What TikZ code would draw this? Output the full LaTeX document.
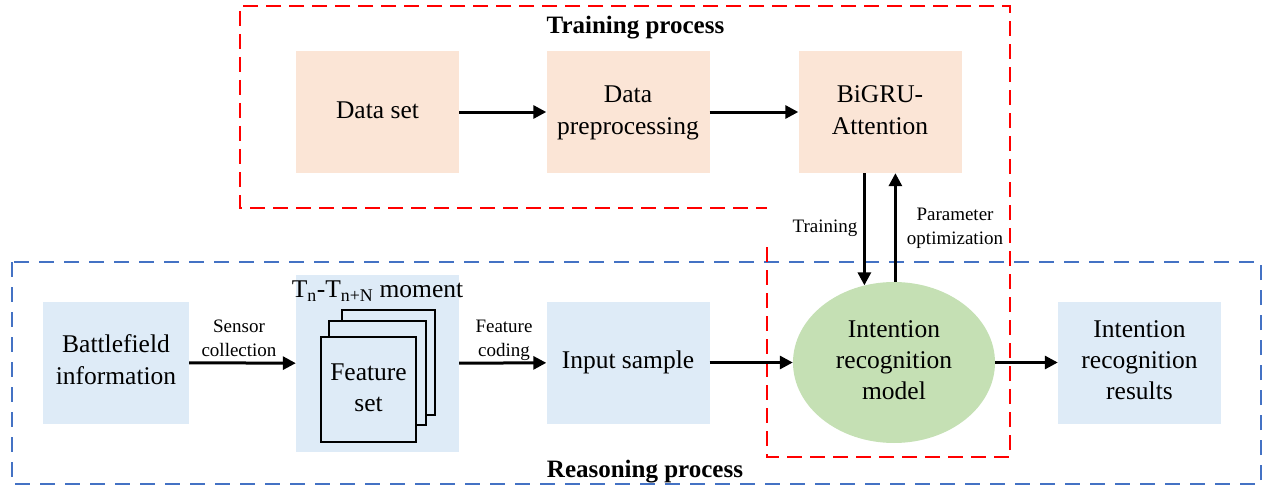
\documentclass[tikz,border=0pt]{standalone}
\usepackage{fontspec}
\setmainfont{Liberation Serif}
\usetikzlibrary{shapes.geometric,arrows.meta}
\definecolor{boxorange}{HTML}{FBE5D6}
\definecolor{boxblue}{HTML}{DEEBF7}
\definecolor{boxgreen}{HTML}{C5E0B4}
\definecolor{redline}{HTML}{FF0000}
\definecolor{blueline}{HTML}{4472C4}
\newcommand{\ml}[1]{\raisebox{-1.5pt}{\begin{tabular}{@{}c@{}}#1\end{tabular}}}
\begin{document}
\begin{tikzpicture}[x=1pt,y=-1pt,
 box/.style={minimum width=163pt,minimum height=122pt,inner sep=0pt,font=\fontsize{25.5}{32}\selectfont},
 obox/.style={box,fill=boxorange},
 bbox/.style={box,fill=boxblue},
 sheet/.style={draw=black,line width=2pt,fill=boxblue,minimum width=95pt,minimum height=105pt,inner sep=0pt,font=\fontsize{25.5}{31}\selectfont},
 arr/.style={line width=3pt,-{Triangle[length=13pt,width=13pt]}},
 lbl/.style={font=\fontsize{19}{24}\selectfont,inner sep=0pt},
 ttl/.style={font=\fontsize{25}{30}\selectfont\bfseries,inner sep=0pt,anchor=base},
 reddash/.style={draw=redline,line width=1.3pt,dash pattern=on 15pt off 8pt},
 bluedash/.style={draw=blueline,line width=1.3pt,dash pattern=on 15pt off 10pt}]
\useasboundingbox (0,0) rectangle (1264,487);
% group frames
\draw[bluedash] (12,262) rectangle (1261,484);
\draw[reddash] (767,247) -- (767,457) -- (1010,457) -- (1010,6) -- (240,6) -- (240,208) -- (767,208);
\node[ttl] (ttrain) at (635.5,34) {Training process};
\node[ttl] (treason) at (645,477.5) {Reasoning process};
% training row
\node[obox] (data) at (377.5,112) {\ml{Data set}};
\node[obox] (prep) at (628,112) {\ml{Data\\preprocessing}};
\node[obox] (bigru) at (880,112) {\ml{BiGRU-\\Attention}};
% reasoning row
\node[bbox,minimum width=146pt] (battle) at (116,362.5) {\ml{Battlefield\\information}};
\node[fill=boxblue,minimum width=163pt,minimum height=177pt,inner sep=0pt] (feat) at (377.5,363.5) {};
\node[font=\fontsize{25.5}{30}\selectfont,inner sep=0pt,anchor=base] (moment) at (377.5,297.5) {T\textsubscript{n}-T\textsubscript{n+N} moment};
\node[sheet,minimum width=93pt] (back) at (388.5,362.5) {};
\node[sheet,minimum width=97pt,minimum height=104pt] (mid) at (377.5,373) {};
\node[sheet] (front) at (368.5,389.5) {\ml{Feature\\set}};
\node[bbox] (input) at (628,362.5) {\ml{Input sample}};
\node[ellipse,fill=boxgreen,minimum width=202pt,minimum height=161pt,inner sep=0pt,font=\fontsize{25.5}{31}\selectfont] (model) at (894,362.5) {\ml{Intention\\recognition\\model}};
\node[bbox,font=\fontsize{25.5}{31}\selectfont] (result) at (1139.5,362.5) {\ml{Intention\\recognition\\results}};
% connectors
\draw[arr] (data) -- (prep);
\draw[arr] (prep) -- (bigru);
\draw[arr] (battle) -- (feat);
\draw[arr] (feat) -- (input);
\draw[arr] (input) -- (model);
\draw[arr] (model) -- (result);
\draw[arr] (bigru.south -| model.111) -- (model.111);
\draw[arr] (model.89) -- (bigru.south -| model.89);
% labels
\node[lbl] (lsens) at (239,340) {\ml{Sensor\\collection}};
\node[lbl] (lcod) at (504,340) {\ml{Feature\\coding}};
\node[lbl] (ltrain) at (825,228) {\ml{Training}};
\node[lbl] (lparam) at (955,228) {\ml{Parameter\\optimization}};
\end{tikzpicture}
\end{document}
